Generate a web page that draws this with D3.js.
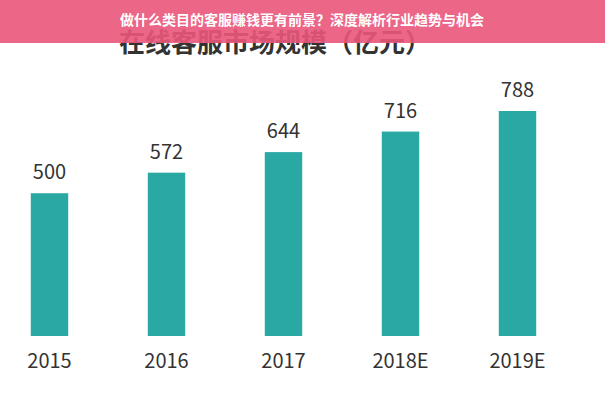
<!DOCTYPE html>
<html><head><meta charset="utf-8">
<script src="https://cdn.jsdelivr.net/npm/d3@7"></script>
<style>body{margin:0;background:#fff}</style>
</head><body>
<svg id="chart" width="605" height="400"></svg>
<script>
var years = ["2015", "2016", "2017", "2018E", "2019E"];
var values = [500, 572, 644, 716, 788];
var chartTitle = "在线客服市场规模（亿元）";
var bannerText = "做什么类目的客服赚钱更有前景？深度解析行业趋势与机会";

var svg = d3.select("#chart");
var font = "'Noto Sans CJK SC', 'Noto Sans', sans-serif";

var x = d3.scaleBand().domain(years).range([-9, 576]).paddingInner(0.68).paddingOuter(0.34);
var y = d3.scaleLinear().domain([0, 788]).range([336, 111]);

svg.append("text").attr("x", 275).attr("y", 52).attr("text-anchor", "middle")
    .style("font-family", font).style("font-size", "26px").style("font-weight", "bold")
    .style("fill", "#333").text(chartTitle);

svg.selectAll(".bar").data(values).enter().append("rect")
    .attr("x", function(d, i) {return x(years[i]);})
    .attr("y", function(d) {return y(d);})
    .attr("width", x.bandwidth())
    .attr("height", function(d) {return y(0) - y(d);})
    .style("fill", "#2aa8a4");

svg.selectAll(".val").data(values).enter().append("text")
    .attr("x", function(d, i) {return x(years[i]) + x.bandwidth() / 2;})
    .attr("y", function(d) {return y(d) - 14;})
    .attr("text-anchor", "middle")
    .style("font-family", font).style("font-size", "20px").style("fill", "#333")
    .text(function(d) {return d;});

var xAxis = svg.append("g").attr("transform", "translate(0,336)")
    .call(d3.axisBottom(x).tickSize(0).tickPadding(18));
xAxis.select(".domain").remove();
xAxis.selectAll("text").style("font-family", font).style("font-size", "20px").style("fill", "#333");

svg.append("rect").attr("x", 0).attr("y", 0).attr("width", 605).attr("height", 43)
    .style("fill", "#e9557a").style("opacity", 0.9);
svg.append("text").attr("x", 302).attr("y", 25).attr("text-anchor", "middle")
    .style("font-family", font).style("font-size", "14px").style("font-weight", "bold")
    .style("fill", "#fff").text(bannerText);
</script>
</body></html>
